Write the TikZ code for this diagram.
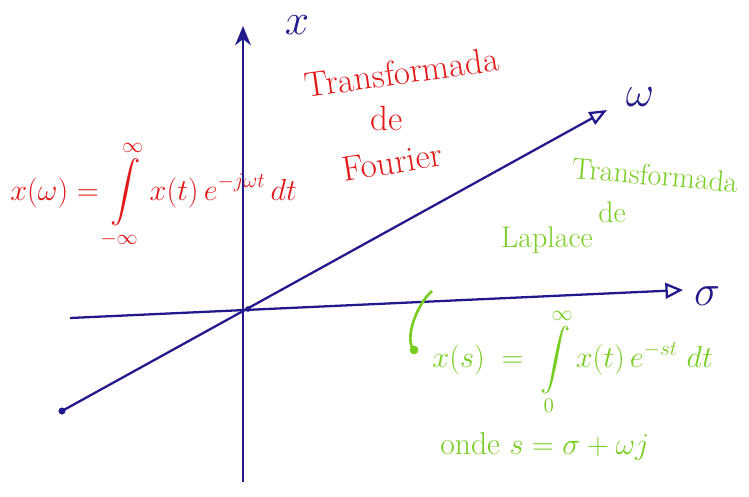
\documentclass[tikz,border=0pt]{standalone}
\usepackage{amsmath}
\usetikzlibrary{arrows.meta}
\definecolor{penblue}{RGB}{35,25,140}
\definecolor{penred}{RGB}{225,25,25}
\definecolor{pengreen}{RGB}{120,205,35}
\tikzset{
  axis/.style={draw=penblue, line width=1.3pt},
  redtxt/.style={text=penred, inner sep=0pt, font=\fontsize{20}{22}\selectfont},
  greentxt/.style={text=pengreen, inner sep=0pt, font=\fontsize{17}{20}\selectfont},
  bluetxt/.style={text=penblue, inner sep=0pt, font=\fontsize{24}{26}\selectfont},
  redmath/.style={text=penred, inner sep=0pt, font=\fontsize{18}{22}\selectfont},
  greenmath/.style={text=pengreen, inner sep=0pt, font=\fontsize{18}{22}\selectfont},
}
\begin{document}
\begin{tikzpicture}[x=0.02cm, y=-0.02cm]
\useasboundingbox (0,0) rectangle (749,496);
% axes
\coordinate (vbot) at (243,482);
\coordinate (vtop) at (243,26);
\coordinate (hleft) at (70,318);
\coordinate (hright) at (683,290);
\coordinate (wbot) at (62,411);
\coordinate (wtop) at (607,110);
\coordinate (orig) at (248,309);
\draw[axis, -{Stealth[length=11pt,width=9pt]}] (vbot) -- (vtop);
\draw[axis, -{Triangle[open,length=10pt,width=9pt]}] (hleft) -- (hright);
\draw[axis, -{Triangle[open,length=10pt,width=8pt]}] (wbot) -- (wtop);
\fill[penblue] (wbot) circle (2pt);
\fill[penblue] (orig) circle (1.6pt);
% axis labels
\node[bluetxt] (lx) at (297,25) {$x$};
\node[bluetxt] (lw) at (640,97) {$\omega$};
\node[bluetxt] (ls) at (707,296) {$\sigma$};
% Fourier
\node[redtxt, rotate=8] (ft1) at (402,72) {Transformada};
\node[redtxt] (ft2) at (387,118) {de};
\node[redtxt, rotate=9] (ft3) at (392,162) {Fourier};
\node[redmath, anchor=west] (ff) at (10,195)
  {$x(\omega)=\displaystyle\int\limits_{-\infty}^{\infty} x(t)\,e^{-j\omega t}\,dt$};
% Laplace
\node[greentxt, rotate=-5] (lt1) at (655,175) {Transformada};
\node[greentxt] (lt2) at (612,212) {de};
\node[greentxt] (lt3) at (547,240) {Laplace};
\node[greenmath, anchor=west] (lf) at (432,362)
  {$x(s)\;=\;\displaystyle\int\limits_{0}^{\infty} x(t)\,e^{-st}\;dt$};
\node[greenmath, anchor=west] (lo) at (440,446) {onde $s=\sigma+\omega j$};
% green pointer
\coordinate (gp1) at (432,291);
\coordinate (gp2) at (414,350);
\draw[pengreen, line width=1.5pt] (gp1) .. controls (416,305) and (404,340) .. (gp2);
\fill[pengreen] (gp2) circle (2.5pt);
\end{tikzpicture}
\end{document}
